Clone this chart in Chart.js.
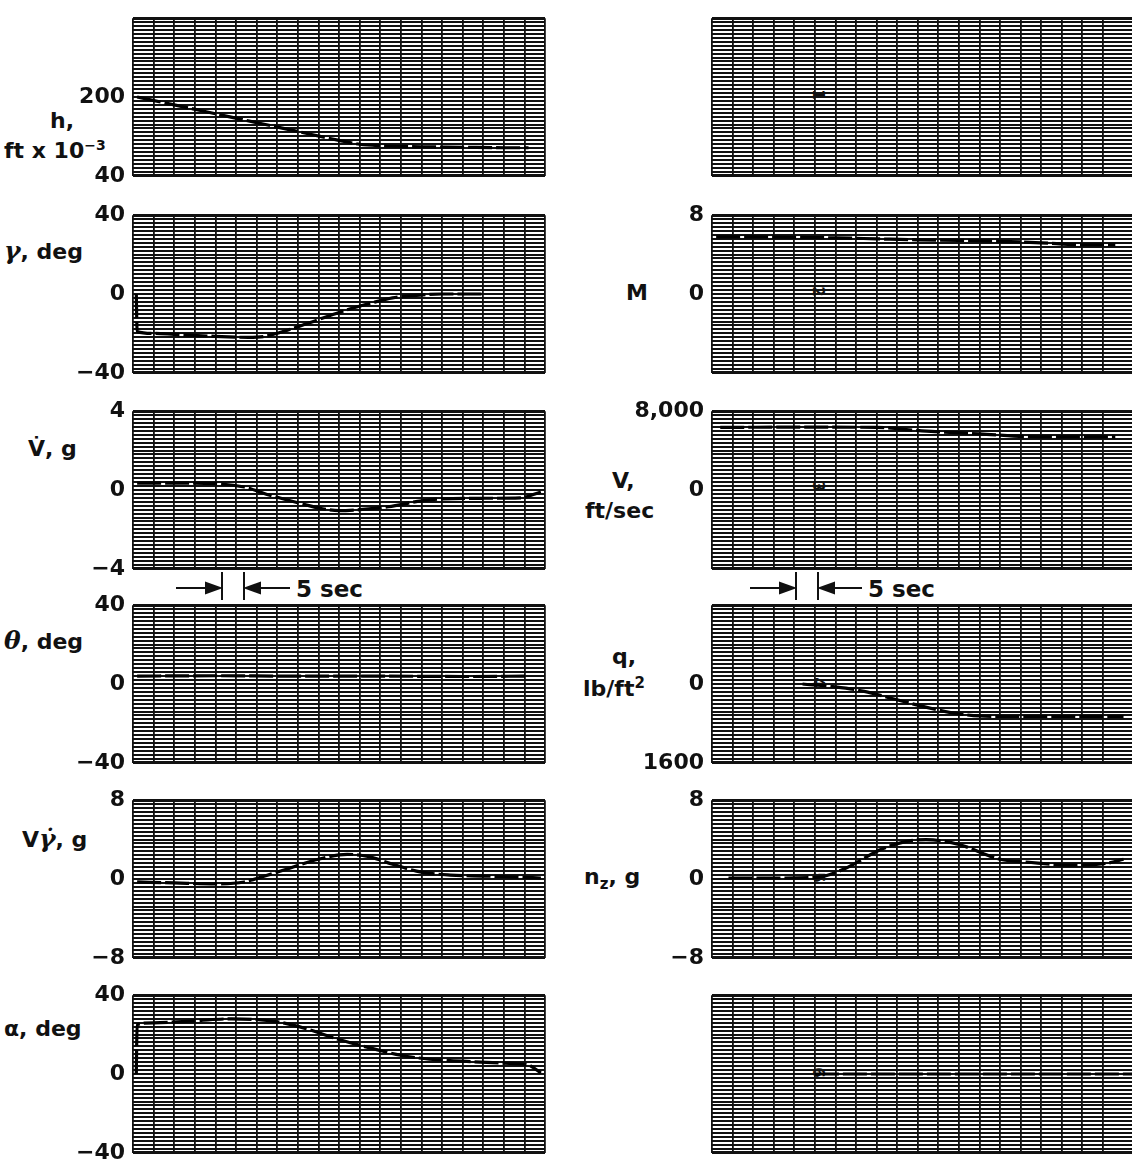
<!DOCTYPE html>
<html>
<head>
<meta charset="utf-8">
<script src="https://cdn.jsdelivr.net/npm/chart.js@4.4.1/dist/chart.umd.min.js"></script>
<style>
  body { margin: 0; width: 1132px; height: 1164px; overflow: hidden; background: #fff; position: relative;
         font-family: "DejaVu Sans", sans-serif; font-weight: bold; color: #111; }
  canvas { position: absolute; }
  .lbl { position: absolute; font-size: 22px; white-space: nowrap; line-height: 1; }
  .gk { font-family: "DejaVu Serif", serif; font-style: italic; font-size: 25px; }
  .mark { position: absolute; font-size: 15px; transform: rotate(90deg); background: #fff; padding: 0 1px; line-height: 1; }
  svg { position: absolute; left: 0; top: 0; }
</style>
</head>
<body>
<div class="lbl" style="left:50px;top:110px">h,</div>
<div class="lbl" style="left:4px;top:138px">ft x 10<sup style="font-size:14px">−3</sup></div>
<div class="lbl" style="left:4px;top:238px"><span class="gk">γ</span>, deg</div>
<div class="lbl" style="left:28px;top:438px">V̇, g</div>
<div class="lbl" style="left:4px;top:628px"><span class="gk">θ</span>, deg</div>
<div class="lbl" style="left:22px;top:826px">V<span class="gk">γ̇</span>, g</div>
<div class="lbl" style="left:4px;top:1018px">α, deg</div>

<div class="lbl" style="left:626px;top:282px">M</div>
<div class="lbl" style="left:612px;top:470px">V,</div>
<div class="lbl" style="left:585px;top:500px">ft/sec</div>
<div class="lbl" style="left:612px;top:646px">q,</div>
<div class="lbl" style="left:583px;top:676px">lb/ft<sup style="font-size:15px">2</sup></div>
<div class="lbl" style="left:584px;top:866px">n<sub style="font-size:15px">z</sub>, g</div>

<div class="mark" style="left:811px;top:87px">1</div>
<div class="mark" style="left:811px;top:284px">2</div>
<div class="mark" style="left:811px;top:479px">3</div>
<div class="mark" style="left:811px;top:675px">4</div>
<div class="mark" style="left:811px;top:870px">5</div>
<div class="mark" style="left:811px;top:1065px">6</div>

<svg width="1132" height="1164">
  <g stroke="#111" stroke-width="2" fill="#111">
    <line x1="222" y1="572" x2="222" y2="600"/><line x1="244" y1="572" x2="244" y2="600"/>
    <line x1="176" y1="588" x2="210" y2="588"/><polygon points="220,588 206,583 206,593"/>
    <line x1="258" y1="588" x2="290" y2="588"/><polygon points="246,588 260,583 260,593"/>
    <line x1="796" y1="572" x2="796" y2="600"/><line x1="818" y1="572" x2="818" y2="600"/>
    <line x1="750" y1="588" x2="784" y2="588"/><polygon points="794,588 780,583 780,593"/>
    <line x1="832" y1="588" x2="862" y2="588"/><polygon points="820,588 834,583 834,593"/>
  </g>
  <text x="296" y="597" font-family="DejaVu Sans" font-weight="bold" font-size="23" fill="#111">5 sec</text>
  <text x="868" y="597" font-family="DejaVu Sans" font-weight="bold" font-size="23" fill="#111">5 sec</text>
</svg>

<script>
// time, sec (one vertical grid division = 5 sec)
// left column
const hT = [1, 10, 20, 30, 40, 50, 55, 60, 70, 80, 90, 96];
const hV = [200, 184, 166, 148, 130, 112, 104, 101, 99, 98, 97, 97];
const hTicks = [40, 200];

const gammaT = [0.8, 1, 5, 10, 20, 28, 32, 38, 45, 52, 58, 63, 68, 75, 85];
const gammaV = [0, -19, -20, -20.5, -21.5, -22, -21.5, -18, -13, -8, -4.5, -2, -0.8, 0, 0];
const gammaTicks = [-40, 0, 40];

const vdotT = [1, 10, 20, 27, 33, 40, 46, 50, 55, 62, 70, 75, 85, 94, 99];
const vdotV = [0.35, 0.35, 0.32, 0.15, -0.25, -0.65, -0.95, -1.05, -1.0, -0.85, -0.55, -0.45, -0.42, -0.4, -0.1];
const vdotTicks = [-4, 0, 4];

const thetaT = [1, 20, 40, 60, 80, 96];
const thetaV = [4, 4.2, 4, 4, 3.8, 4];
const thetaTicks = [-40, 0, 40];

const vgdT = [1, 10, 20, 27, 32, 38, 45, 52, 57, 63, 70, 77, 85, 93, 99];
const vgdV = [-0.3, -0.4, -0.5, -0.3, 0.3, 1.1, 2.0, 2.5, 2.3, 1.5, 0.7, 0.4, 0.3, 0.2, 0.1];
const vgdTicks = [-8, 0, 8];

const alphaT = [0.8, 1, 5, 15, 24, 35, 42, 50, 58, 65, 72, 80, 90, 96, 99];
const alphaV = [0, 25, 26, 27, 28, 26.5, 23, 17.5, 13, 9.5, 7.5, 6.5, 5.5, 4.5, 0.5];
const alphaTicks = [-40, 0, 40];

// right column
const machT = [1, 10, 20, 30, 40, 50, 60, 70, 80, 90, 98];
const machV = [5.8, 5.8, 5.75, 5.7, 5.6, 5.5, 5.45, 5.35, 5.2, 5.0, 5.0];
const machTicks = [0, 8];

const velT = [2, 20, 40, 51, 65, 79, 98];
const velV = [6360, 6380, 6360, 6000, 5700, 5400, 5400];
const velTicks = [0, 8000];

const qT = [22, 30, 37, 44, 51, 58, 65, 72, 80, 90, 100];
const qV = [0, 60, 150, 300, 450, 580, 650, 660, 660, 660, 660];
const qTicks = [0, 1600];

const nzT = [4, 15, 25, 32, 41, 47, 52, 60, 70, 77, 88, 96, 100];
const nzV = [0.1, 0.1, 0.15, 1.0, 3.0, 3.8, 4.0, 3.5, 2.0, 1.7, 1.4, 1.6, 2.0];
const nzTicks = [-8, 0, 8];

const ch6T = [25, 104];
const ch6V = [0, 0];

const panels = [
  { col: 0, row: 0, min: 40, max: 360, t: hT, v: hV, ticks: hTicks },
  { col: 0, row: 1, min: -40, max: 40, t: gammaT, v: gammaV, ticks: gammaTicks },
  { col: 0, row: 2, min: -4, max: 4, t: vdotT, v: vdotV, ticks: vdotTicks },
  { col: 0, row: 3, min: -40, max: 40, t: thetaT, v: thetaV, ticks: thetaTicks },
  { col: 0, row: 4, min: -8, max: 8, t: vgdT, v: vgdV, ticks: vgdTicks },
  { col: 0, row: 5, min: -40, max: 40, t: alphaT, v: alphaV, ticks: alphaTicks },
  { col: 1, row: 0, min: -1, max: 1, t: [], v: [], ticks: [] },
  { col: 1, row: 1, min: -8, max: 8, t: machT, v: machV, ticks: machTicks },
  { col: 1, row: 2, min: -8000, max: 8000, t: velT, v: velV, ticks: velTicks },
  { col: 1, row: 3, min: -1600, max: 1600, reverse: true, t: qT, v: qV, ticks: qTicks },
  { col: 1, row: 4, min: -8, max: 8, t: nzT, v: nzV, ticks: nzTicks },
  { col: 1, row: 5, min: -1, max: 1, t: ch6T, v: ch6V, ticks: [] },
];

const rowTop = [13, 210, 406, 600, 795, 990];
const rowH = 168;
const pad = 16;

function fmt(v) {
  if (v < 0) return "−" + Math.abs(v);
  if (v >= 5000) return v.toLocaleString("en-US");
  return String(v);
}

panels.forEach((p) => {
  const axisW = p.col === 0 ? 133 : 152;
  const areaW = p.col === 0 ? 412 : 428;
  const xMax = p.col === 0 ? 100 : 104;
  const canvas = document.createElement("canvas");
  canvas.width = axisW + areaW + 1;
  canvas.height = rowH + 2 * pad;
  canvas.style.left = (p.col === 0 ? 0 : 560) + "px";
  canvas.style.top = rowTop[p.row] - pad + "px";
  document.body.appendChild(canvas);

  const step = (p.max - p.min) / 40;
  new Chart(canvas, {
    type: "line",
    data: {
      datasets: [
        {
          data: p.t.map((x, i) => ({ x: x, y: p.v[i] })),
          borderColor: "#000",
          borderWidth: 3.2,
          borderDash: [24, 4],
          pointRadius: 0,
          cubicInterpolationMode: "monotone",
          fill: false,
        },
      ],
    },
    options: {
      responsive: false,
      animation: false,
      events: [],
      layout: { padding: { top: pad, bottom: pad, left: 0, right: 1 } },
      plugins: { legend: { display: false }, tooltip: { enabled: false } },
      scales: {
        x: {
          type: "linear",
          min: 0,
          max: xMax,
          ticks: { display: false, stepSize: 5, maxTicksLimit: 60 },
          grid: { color: "#111", lineWidth: 1.8, drawTicks: false },
          border: { display: false },
        },
        y: {
          min: p.min,
          max: p.max,
          reverse: !!p.reverse,
          afterFit: (s) => { s.width = axisW; },
          ticks: {
            stepSize: step,
            autoSkip: false,
            maxTicksLimit: 100,
            padding: 8,
            color: "#111",
            font: { family: "DejaVu Sans", size: 22, weight: "bold" },
            callback: (val) => {
              const hit = p.ticks.find((t) => Math.abs(t - val) < step / 10);
              return hit === undefined ? "" : fmt(hit);
            },
          },
          grid: {
            color: "#111",
            drawTicks: false,
            lineWidth: (ctx) => (ctx.index === 0 || ctx.index === 40 ? 3 : 2.1),
          },
          border: { display: false },
        },
      },
    },
  });
});
</script>
</body>
</html>
